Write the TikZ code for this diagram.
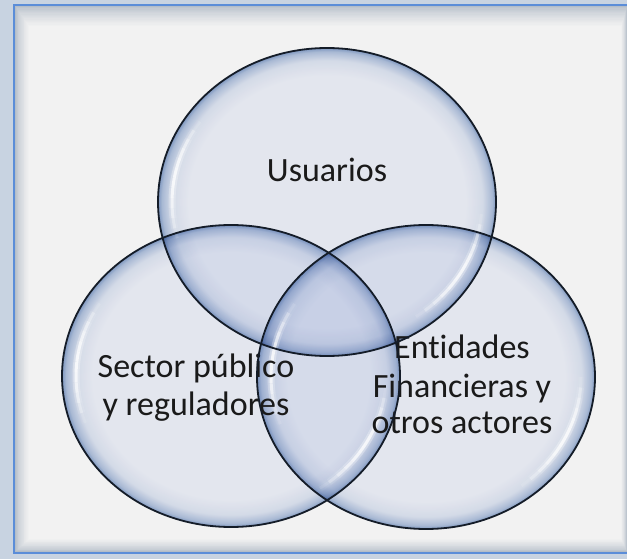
\documentclass[tikz,border=0pt]{standalone}
\usepackage{fontspec}
\setmainfont{Carlito}[RawFeature={-liga}]
\definecolor{outerbg}{HTML}{C8D3E1}
\definecolor{innerbg}{HTML}{F2F2F2}
\definecolor{shadowc}{HTML}{B4BDC8}
\definecolor{frameblue}{HTML}{5B8DD8}
\definecolor{glassin}{HTML}{F0F3FB}
\definecolor{glassmid}{HTML}{DFE6F4}
\definecolor{glassrim2}{HTML}{B3C4E0}
\definecolor{glassrim}{HTML}{86A0CA}
\definecolor{edgec}{HTML}{141C28}
\definecolor{txt}{HTML}{1A1A1A}
\pgfdeclareradialshading{glassball}{\pgfpoint{0bp}{0bp}}{color(0bp)=(glassin); color(20.5bp)=(glassin); color(23bp)=(glassmid); color(24.4bp)=(glassrim2); color(25bp)=(glassrim); color(50bp)=(glassrim)}
\newcommand\hlarc[4]{%
  \foreach \s in {0,...,11}{%
    \pgfmathsetmacro\aa{#3+(#4-#3)*\s/12}%
    \pgfmathsetmacro\bb{#3+(#4-#3)*(\s+1)/12}%
    \pgfmathsetmacro\op{sin(180*(\s+0.5)/12)}%
    \draw[white, line width=7, opacity=0.3*\op] (\aa:#1 and #2) arc[start angle=\aa, end angle=\bb, x radius=#1, y radius=#2];
    \draw[white, line width=3, opacity=0.75*\op] (\aa:#1 and #2) arc[start angle=\aa, end angle=\bb, x radius=#1, y radius=#2];
  }%
}
\tikzset{
  lbl/.style={text=txt, font=\fontsize{34}{38}\selectfont, inner sep=0pt, anchor=base},
  rimline/.style={draw=edgec, line width=1.8}
}
\begin{document}
\begin{tikzpicture}[x=1pt,y=-1pt]
\useasboundingbox (0,0) rectangle (627,559);
\fill[outerbg] (0,0) rectangle (627,559);
\foreach \i in {0,...,16}{
  \pgfmathsetmacro\t{100*(\i/16)^0.7}
  \fill[innerbg!\t!shadowc] (15+0.85*\i, 6+1.25*\i) rectangle (627-0.35*\i, 552-0.8*\i);
}
\draw[frameblue, line width=2] (14,5) rectangle (700,553);

\coordinate (cU) at (327,202);
\coordinate (cS) at (231,376);
\coordinate (cE) at (426,377);

\begin{scope}[blend mode=multiply]
  \shade[shading=glassball] (cU) ellipse [x radius=169, y radius=154];
  \shade[shading=glassball] (cS) ellipse [x radius=169, y radius=151];
  \shade[shading=glassball] (cE) ellipse [x radius=169, y radius=152];
\end{scope}

\begin{scope}[shift={(cU)}]
  \hlarc{155}{140}{165}{215}
  \hlarc{155}{140}{5}{55}
\end{scope}
\begin{scope}[shift={(cS)}]
  \hlarc{155}{137}{160}{212}
  \hlarc{155}{137}{5}{55}
\end{scope}
\begin{scope}[shift={(cE)}]
  \hlarc{155}{138}{160}{212}
  \hlarc{155}{138}{0}{52}
\end{scope}

\node[lbl] (u) at (327,182) {Usuarios};
\node[lbl] (s1) at (196,377) {Sector público};
\node[lbl] (s2) at (196,415) {y reguladores};
\node[lbl] (e1) at (462,358) {Entidades};
\node[lbl] (e2) at (462,397) {Financieras y};
\node[lbl] (e3) at (462,433) {otros actores};

\draw[rimline] (cU) ellipse [x radius=169, y radius=154];
\draw[rimline] (cS) ellipse [x radius=169, y radius=151];
\draw[rimline] (cE) ellipse [x radius=169, y radius=152];
\end{tikzpicture}
\end{document}
